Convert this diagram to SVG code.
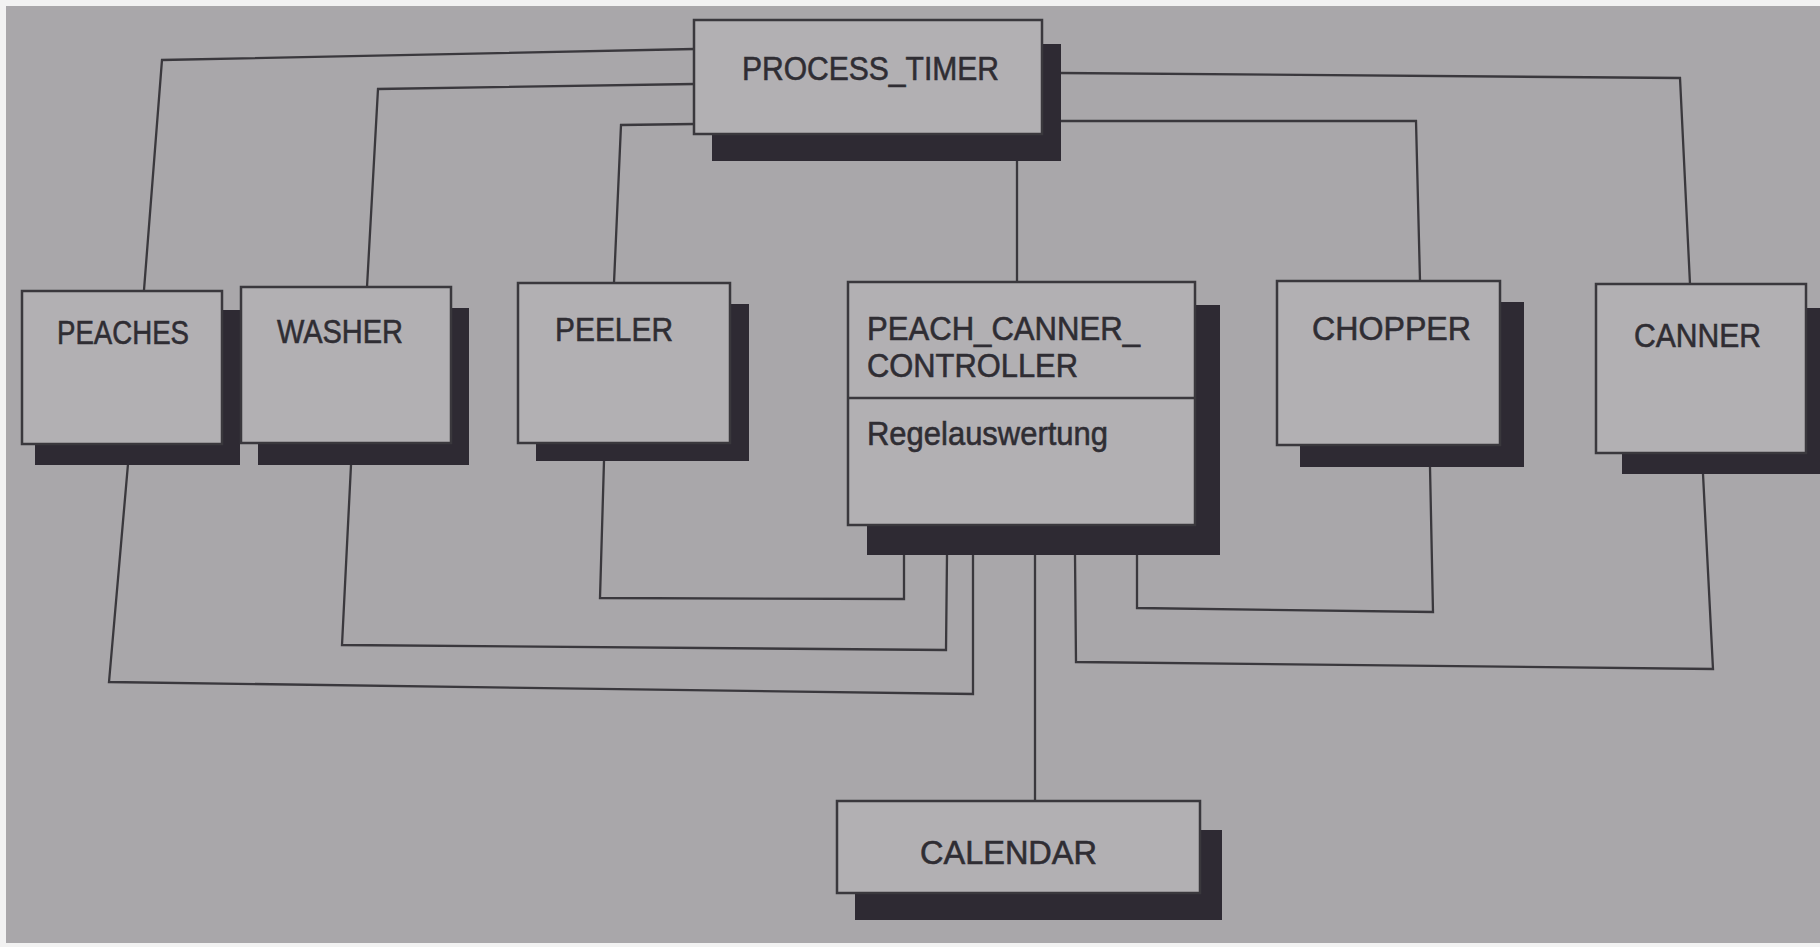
<svg xmlns="http://www.w3.org/2000/svg" width="1820" height="947" viewBox="0 0 1820 947">
<style>
.bg{fill:#a9a7aa}
.box{fill:#b2b0b3;stroke:#3a383d;stroke-width:2.5}
.sh{fill:#2e2a33}
.lbl{font-family:"Liberation Sans",Arial,sans-serif;font-size:34px;fill:#2f2d33;stroke:#2f2d33;stroke-width:0.6}
.conn{fill:none;stroke:#3a383d;stroke-width:2.3;stroke-linejoin:miter}
</style>
<rect x="0" y="0" width="1820" height="947" fill="#f2f2f2"/>
<rect class="bg" x="6" y="6" width="1814" height="937"/>
<g id="connectors">
<polyline class="conn" points="694,49 162,60 144,290"/>
<polyline class="conn" points="694,84 378,89 367,287"/>
<polyline class="conn" points="694,124 621,125 614,283"/>
<polyline class="conn" points="1017,135 1017,281"/>
<polyline class="conn" points="1060,121 1416,121 1420,281"/>
<polyline class="conn" points="1060,73 1680,78 1690,284"/>
<polyline class="conn" points="128,464 109,682 973,694 973,555"/>
<polyline class="conn" points="351,465 342,645 946,650 947,555"/>
<polyline class="conn" points="604,461 600,598 904,599 904,555"/>
<polyline class="conn" points="1035,555 1035,801"/>
<polyline class="conn" points="1430,467 1433,612 1137,608 1137,555"/>
<polyline class="conn" points="1703,474 1713,669 1076,662 1075,555"/>
</g>
<g id="process_timer">
<rect class="sh" x="712" y="44" width="349" height="117"/>
<rect class="box" x="694" y="20" width="348" height="114"/>
<text class="lbl" x="742" y="80" textLength="257" lengthAdjust="spacingAndGlyphs">PROCESS_TIMER</text>
</g>
<g id="peaches">
<rect class="sh" x="35" y="310" width="205" height="155"/>
<rect class="box" x="22" y="291" width="200" height="153"/>
<text class="lbl" x="57" y="344" textLength="132" lengthAdjust="spacingAndGlyphs">PEACHES</text>
</g>
<g id="washer">
<rect class="sh" x="258" y="308" width="211" height="157"/>
<rect class="box" x="241" y="287" width="210" height="156"/>
<text class="lbl" x="277" y="343" textLength="126" lengthAdjust="spacingAndGlyphs">WASHER</text>
</g>
<g id="peeler">
<rect class="sh" x="536" y="304" width="213" height="157"/>
<rect class="box" x="518" y="283" width="212" height="160"/>
<text class="lbl" x="555" y="341" textLength="118" lengthAdjust="spacingAndGlyphs">PEELER</text>
</g>
<g id="peach_canner_controller">
<rect class="sh" x="867" y="305" width="353" height="250"/>
<rect class="box" x="848" y="282" width="347" height="243"/>
<line x1="848" y1="398" x2="1195" y2="398" stroke="#3a383d" stroke-width="2.5"/>
<text class="lbl" x="867" y="340" textLength="273" lengthAdjust="spacingAndGlyphs">PEACH_CANNER_</text>
<text class="lbl" x="867" y="377" textLength="211" lengthAdjust="spacingAndGlyphs">CONTROLLER</text>
<text class="lbl" x="867" y="445" textLength="241" lengthAdjust="spacingAndGlyphs">Regelauswertung</text>
</g>
<g id="chopper">
<rect class="sh" x="1300" y="302" width="224" height="165"/>
<rect class="box" x="1277" y="281" width="223" height="164"/>
<text class="lbl" x="1312" y="340" textLength="159" lengthAdjust="spacingAndGlyphs">CHOPPER</text>
</g>
<g id="canner">
<rect class="sh" x="1622" y="308" width="200" height="166"/>
<rect class="box" x="1596" y="284" width="210" height="169"/>
<text class="lbl" x="1634" y="347" textLength="127" lengthAdjust="spacingAndGlyphs">CANNER</text>
</g>
<g id="calendar">
<rect class="sh" x="855" y="830" width="367" height="90"/>
<rect class="box" x="837" y="801" width="363" height="92"/>
<text class="lbl" x="920" y="864" textLength="177" lengthAdjust="spacingAndGlyphs">CALENDAR</text>
</g>
</svg>
